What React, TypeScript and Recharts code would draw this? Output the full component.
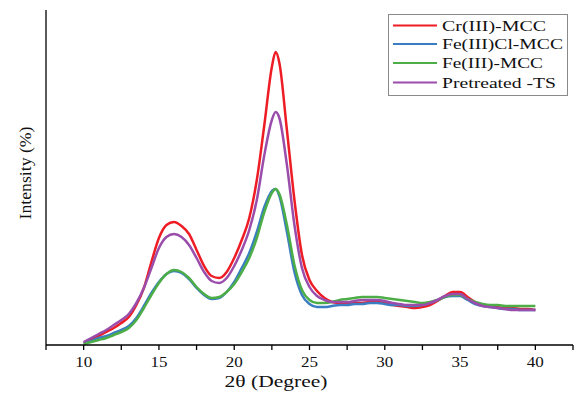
import { LineChart, Line, XAxis, YAxis, Label } from 'recharts'

const theta = [
  10, 10.5, 11, 11.5, 12, 12.5, 13, 13.5, 14, 14.5, 15, 15.5, 16, 16.5, 17, 17.5, 18, 18.5, 19, 19.5,
  20, 20.5, 21, 21.5, 22, 22.5, 22.75, 23, 23.5, 24, 24.5, 25, 25.5, 26, 26.5, 27, 27.5, 28, 28.5, 29,
  29.5, 30, 30.5, 31, 31.5, 32, 32.5, 33, 33.5, 34, 34.5, 35, 35.5, 36, 36.5, 37, 37.5, 38, 38.5, 39,
  39.5, 40,
]

const crMcc = [
  2, 5, 9, 13, 17, 22, 28, 40, 57, 83, 107, 120, 123, 119, 111, 95, 79, 69, 67, 73,
  87, 105, 127, 165, 220, 278, 293, 282, 215, 145, 90, 65, 54, 47, 43, 42, 42, 42, 42, 43,
  43, 42, 40, 39, 38, 37, 38, 40, 44, 49, 53, 53, 48, 43, 40, 39, 38, 37, 37, 36,
  36, 35,
]

const feClMcc = [
  2, 4, 7, 9, 12, 15, 19, 27, 39, 52, 63, 71, 74, 72, 66, 57, 50, 46, 47, 53,
  63, 77, 92, 113, 138, 154, 156, 149, 113, 73, 50, 41, 38, 38, 39, 40, 40, 41, 41, 42,
  42, 41, 40, 40, 39, 39, 40, 42, 45, 48, 49, 49, 45, 41, 39, 38, 37, 36, 36, 35,
  35, 35,
]

const feMcc = [
  1, 3, 5, 7, 10, 13, 17, 25, 37, 50, 62, 71, 75, 73, 67, 58, 51, 47, 48, 53,
  61, 73, 87, 107, 133, 152, 156, 151, 120, 80, 55, 45, 42, 42, 43, 45, 46, 47, 48, 48,
  48, 47, 46, 45, 44, 43, 42, 43, 45, 48, 50, 50, 46, 43, 41, 40, 40, 39, 39, 39,
  39, 39,
]

const pretreatedTs = [
  3, 7, 11, 15, 20, 25, 31, 42, 57, 77, 97, 108, 111, 108, 100, 87, 73, 64, 62, 67,
  79, 95, 115, 145, 190, 225, 233, 227, 180, 120, 77, 58, 49, 45, 43, 43, 43, 44, 45, 45,
  45, 44, 42, 41, 40, 40, 40, 42, 45, 49, 51, 51, 46, 42, 39, 38, 37, 36, 35, 35,
  35, 35,
]

const xTicks = [7.5, 10, 12.5, 15, 17.5, 20, 22.5, 25, 27.5, 30, 32.5, 35, 37.5, 40, 42.5]

const series = [
  { key: 'cr', name: 'Cr(III)-MCC', color: '#EE1C25', width: 104 },
  { key: 'fecl', name: 'Fe(III)Cl-MCC', color: '#3A7DC2', width: 121 },
  { key: 'fe', name: 'Fe(III)-MCC', color: '#4DAE48', width: 101 },
  { key: 'ts', name: 'Pretreated -TS', color: '#9A4DAA', width: 114 },
]

const data = theta.map((t, i) => ({
  theta: t,
  cr: crMcc[i],
  fecl: feClMcc[i],
  fe: feMcc[i],
  ts: pretreatedTs[i],
}))

const FONT = 'Liberation Serif, serif'

function XTick({ x, y, payload }: any) {
  if (payload.value % 5 !== 0) return null
  return (
    <text x={x} y={y + 15} textAnchor="middle" fontFamily={FONT} fontSize={15} fill="#111"
      textLength={17} lengthAdjust="spacingAndGlyphs">
      {payload.value}
    </text>
  )
}

export default function App() {
  return (
    <div style={{ position: 'absolute', left: 0, top: 0, width: 577, height: 393, background: '#fff' }}>
      <LineChart width={577} height={393} data={data} margin={{ top: 10, right: 4, left: 10, bottom: 18 }}>
        <XAxis
          dataKey="theta"
          type="number"
          domain={[7.5, 42.5]}
          ticks={xTicks}
          interval={0}
          tick={<XTick />}
          tickSize={5}
          stroke="#000"
          strokeWidth={1.3}
          height={30}
        >
          <Label
            content={() => (
              <text x={276} y={387} textAnchor="middle" fontFamily={FONT} fontSize={16} fill="#111"
                textLength={103} lengthAdjust="spacingAndGlyphs">
                2θ (Degree)
              </text>
            )}
          />
        </XAxis>
        <YAxis
          type="number"
          domain={[0, 335]}
          tick={false}
          tickLine={false}
          width={36}
          stroke="#000"
          strokeWidth={1.3}
        >
          <Label
            content={() => (
              <text x={25} y={173} transform="rotate(-90, 25, 173)" textAnchor="middle"
                dominantBaseline="central" fontFamily={FONT} fontSize={16} fill="#111"
                textLength={93} lengthAdjust="spacingAndGlyphs">
                Intensity (%)
              </text>
            )}
          />
        </YAxis>
        {series.map((s) => (
          <Line
            key={s.key}
            dataKey={s.key}
            name={s.name}
            type="monotone"
            stroke={s.color}
            strokeWidth={2.5}
            dot={false}
            isAnimationActive={false}
          />
        ))}
      </LineChart>

      {/* legend box */}
      <svg width={181} height={83} style={{ position: 'absolute', left: 388, top: 14 }}>
        <rect x={0.5} y={0.5} width={179} height={81} fill="#fff" stroke="#8a8a8a" strokeWidth={1} />
        {series.map((s, i) => {
          const cy = [11.5, 30, 49, 68.5][i]
          return (
            <g key={s.key}>
              <line x1={5} x2={49} y1={cy} y2={cy} stroke={s.color} strokeWidth={2} />
              <text x={54} y={cy + 5} fontFamily={FONT} fontSize={15} fill="#111"
                textLength={s.width} lengthAdjust="spacingAndGlyphs">
                {s.name}
              </text>
            </g>
          )
        })}
      </svg>
    </div>
  )
}
